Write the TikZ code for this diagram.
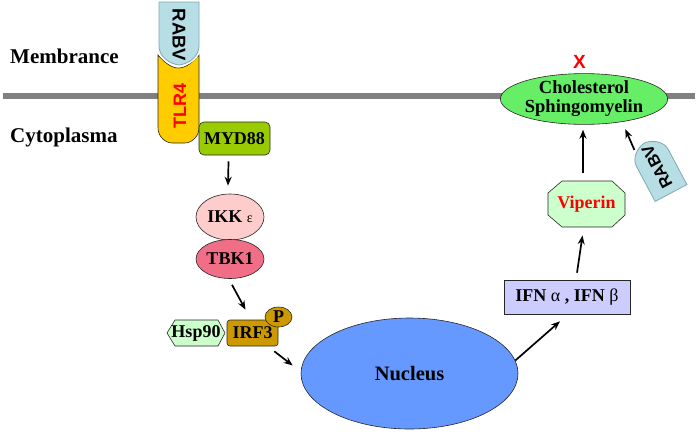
\documentclass[tikz,border=0pt]{standalone}
\usepackage{fontspec}
\setmainfont{Liberation Serif}
\newfontfamily\sansfnt{Liberation Sans}
\usetikzlibrary{arrows.meta,shapes.geometric,shapes.misc,calc}

\definecolor{rabvc}{HTML}{B7DEE5}
\definecolor{rabvd}{HTML}{7FA9B0}
\definecolor{tlrc}{HTML}{FFCC00}
\definecolor{mydc}{HTML}{99CC00}
\definecolor{ikkc}{HTML}{FFCCCC}
\definecolor{tbkc}{HTML}{F06E86}
\definecolor{irfc}{HTML}{CC9900}
\definecolor{paleg}{HTML}{CCFFCC}
\definecolor{nucc}{HTML}{6699FF}
\definecolor{ifnc}{HTML}{CCCCFF}
\definecolor{cholc}{HTML}{66EE66}
\definecolor{memc}{HTML}{808080}
\definecolor{redt}{HTML}{FF0000}

\begin{document}
\begin{tikzpicture}[x=1pt,y=-1pt,
  lbl/.style={font=\fontsize{21}{24}\selectfont\bfseries, anchor=base west, inner sep=0pt},
  prot/.style={draw=black!85, line width=0.6pt, inner sep=0pt, font=\fontsize{18}{20}\selectfont\bfseries},
  arr/.style={-{Stealth[length=9pt,width=7pt]}, line width=1.7pt, black},
  memline/.style={draw=memc, line width=6pt},
  rabvshape/.style={draw=rabvd, fill=rabvc, line width=0.8pt},
  rabvtext/.style={transform shape, font=\sansfnt\fontsize{18.5}{18.5}\selectfont\bfseries, inner sep=0pt},
  rabv/.pic={
    \path[draw=white, line width=4pt] (0,-20) -- (44,-20) .. controls (55,-20) and (62,-9) .. (63,0) .. controls (62,9) and (55,20) .. (44,20) -- (0,20) -- cycle;
    \path[rabvshape] (0,-20) -- (44,-20) .. controls (55,-20) and (62,-9) .. (63,0) .. controls (62,9) and (55,20) .. (44,20) -- (0,20) -- cycle;
    \node[rabvtext] (-t) at (33,0) {RABV};
    \coordinate (-tip) at (63,0);
  }
]
\useasboundingbox (0,0) rectangle (700,434);

% membrane
\coordinate (m1) at (3,95.5);
\coordinate (m2) at (695,95.5);
\draw[memline] (m1) -- (m2);

% labels
\node[lbl] (memlbl) at (10,63) {Membrance};
\node[lbl] (cytlbl) at (10,142) {Cytoplasma};

% TLR4
\path[draw=black!85, fill=tlrc, line width=0.6pt]
  (158,55) .. controls (164,62) and (171,68) .. (178.5,68)
  .. controls (186,68) and (193,62) .. (199,55)
  -- (199,128) .. controls (199,137) and (191,143) .. (185,143)
  -- (172,143) .. controls (166,143) and (158,137) .. (158,128) -- cycle;
\node[font=\sansfnt\fontsize{18}{18}\selectfont\bfseries, text=redt, rotate=90, inner sep=0pt] (tlr) at (180,106) {TLR4};

% RABV on top
\pic (rabvA) at (179,2) [rotate=-90] {rabv};

% MYD88
\node[prot, rounded corners=5pt, fill=mydc, minimum width=71pt, minimum height=33pt] (myd) at (234.5,138.5) {MYD88};

% IKK / TBK1
\node[prot, ellipse, fill=ikkc, minimum width=68pt, minimum height=46pt] (ikk) at (230,217) {IKK {\mdseries\fontsize{14}{14}\selectfont ε}};
\node[prot, ellipse, fill=tbkc, minimum width=68pt, minimum height=39pt] (tbk) at (230,259) {TBK1};

% Hsp90 hexagon
\path[draw=black!85, fill=paleg, line width=0.6pt]
  (167,333) -- (175,320) -- (218,320) -- (225,333) -- (218,346) -- (175,346) -- cycle;
\node[prot, draw=none] (hsp) at (196,333) {Hsp90};

% IRF3 and P
\node[prot, rounded corners=3pt, fill=irfc, minimum width=51pt, minimum height=26pt] (irf) at (252.5,333) {IRF3};
\node[prot, ellipse, fill=irfc, minimum width=27pt, minimum height=20pt] (pp) at (278.5,317) {P};

% Nucleus
\node[prot, ellipse, fill=nucc, minimum width=217pt, minimum height=111pt, font=\fontsize{20.5}{22}\selectfont\bfseries] (nuc) at (409.5,373.5) {Nucleus};

% IFN
\node[prot, fill=ifnc, minimum width=126pt, minimum height=34pt] (ifn) at (567,297) {IFN {\mdseries α} , IFN {\mdseries β}};

% Viperin octagon
\path[draw=black!85, fill=paleg, line width=0.6pt]
  (548,193) -- (562,181) -- (612,181) -- (625,193) -- (625,215) -- (612,227) -- (562,227) -- (548,215) -- cycle;
\node[prot, draw=none, text=redt] (vip) at (586.5,204) {Viperin};

% Cholesterol
\node[prot, ellipse, fill=cholc, minimum width=146pt, minimum height=48pt, align=center, font=\fontsize{18.5}{19}\selectfont\bfseries] (chol) at (584,99) {Cholesterol\\Sphingomyelin};

% X
\node[font=\sansfnt\fontsize{19}{19}\selectfont\bfseries, text=redt, inner sep=0pt] (xmark) at (579.5,61.5) {X};

% RABV near cholesterol
\pic (rabvB) at (671,193) [rotate=118, scale=0.9] {rabv};

% arrows
\draw[arr] ([shift={(-6,6)}]myd.south) -- ([shift={(-2,-8)}]ikk.north);
\draw[arr] ([shift={(2,6)}]tbk.south) -- ([shift={(-7,-10)}]irf.north);
\draw[arr] ([shift={(-4,5)}]irf.south east) -- ([shift={(-8,-8)}]nuc.west);
\draw[arr] ([shift={(-3,-13)}]nuc.east) -- ([shift={(-7,7)}]ifn.south);
\draw[arr] ([shift={(10,-7)}]ifn.north) -- ([shift={(-4,23)}]vip.south);
\draw[arr] ([shift={(-3.5,-23)}]vip.north) -- ([shift={(-1,5)}]chol.south);
\draw[arr] ([shift={(-10,7)}]rabvB-tip) -- ([shift={(-18,12)}]chol.south east);
\end{tikzpicture}
\end{document}
